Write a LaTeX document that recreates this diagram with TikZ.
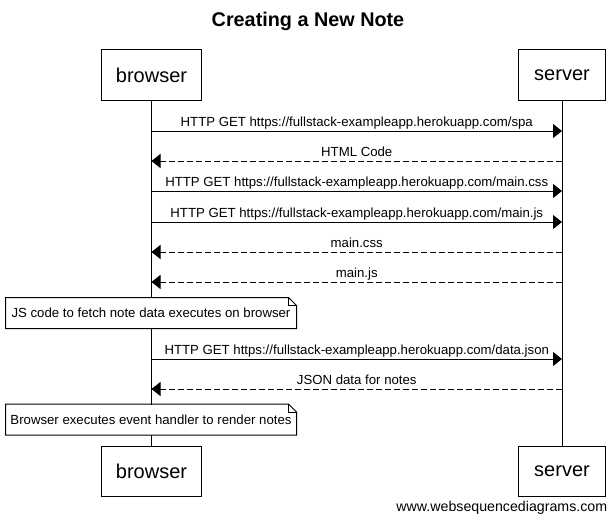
\documentclass[tikz,border=0pt]{standalone}
\usepackage{fontspec}
\setmainfont{Liberation Sans}
\usetikzlibrary{arrows.meta}
\tikzset{
  actor/.style={draw, fill=white, line width=1pt, minimum height=50pt, inner sep=0pt,
    font=\fontsize{20}{24}\selectfont},
  call/.style={-{Triangle[length=9pt,width=14pt]}, line width=1pt},
  reply/.style={call, dash pattern=on 6pt off 3pt},
  msg/.style={anchor=base, yshift=5pt, inner sep=0pt, font=\fontsize{13.2}{15}\selectfont},
  notebox/.style={fill=white, minimum width=290pt, minimum height=30pt, inner sep=0pt,
    font=\fontsize{13.2}{15}\selectfont},
}
\begin{document}
\begin{tikzpicture}[x=1pt, y=-1pt, line width=1pt]
\def\xb{151.5}
\def\xs{562}
\useasboundingbox (0,0) rectangle (615,519);
\node[font=\bfseries\fontsize{19.8}{23}\selectfont] (title) at (308,21) {Creating a New Note};
\node[actor, minimum width=100pt] (btop) at (\xb,75) {browser};
\node[actor, minimum width=87pt]  (stop) at (\xs,75) {server};
\node[actor, minimum width=100pt] (bbot) at (\xb,471) {browser};
\node[actor, minimum width=87pt]  (sbot) at (\xs,471) {server};
\draw (btop.south) -- (bbot.north);
\draw (stop.south) -- (sbot.north);
\foreach \n/\y in {1/131,2/161,3/191,4/222,5/252,6/282,7/359,8/389}{
  \coordinate (b\n) at (\xb,\y);
  \coordinate (s\n) at (\xs,\y);
}
\draw[call]  (b1) -- node[msg]{HTTP GET https://fullstack-exampleapp.herokuapp.com/spa} (s1);
\draw[reply] (s2) -- node[msg]{HTML Code} (b2);
\draw[call]  (b3) -- node[msg]{HTTP GET https://fullstack-exampleapp.herokuapp.com/main.css} (s3);
\draw[call]  (b4) -- node[msg]{HTTP GET https://fullstack-exampleapp.herokuapp.com/main.js} (s4);
\draw[reply] (s5) -- node[msg]{main.css} (b5);
\draw[reply] (s6) -- node[msg]{main.js} (b6);
\node[notebox] (n1) at (151,313) {JS code to fetch note data executes on browser};
\draw[call]  (b7) -- node[msg]{HTTP GET https://fullstack-exampleapp.herokuapp.com/data.json} (s7);
\draw[reply] (s8) -- node[msg]{JSON data for notes} (b8);
\node[notebox] (n2) at (151,419.5) {Browser executes event handler to render notes};
\foreach \n in {n1,n2}{
  \draw (\n.north west) -- ([xshift=-8pt]\n.north east) -- ([yshift=-8pt]\n.north east)
    -- (\n.south east) -- (\n.south west) -- cycle;
  \draw ([xshift=-8pt]\n.north east) -- ([xshift=-8pt,yshift=-8pt]\n.north east) -- ([yshift=-8pt]\n.north east);
}
\node[font=\fontsize{14.2}{16}\selectfont, anchor=east] (wsd) at (611,508) {www.websequencediagrams.com};
\end{tikzpicture}
\end{document}
